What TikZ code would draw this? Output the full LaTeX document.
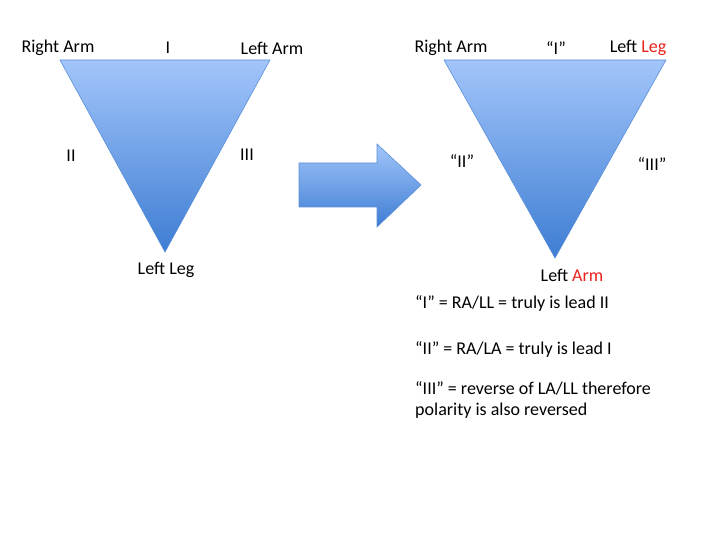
\documentclass[tikz,border=0pt]{standalone}
\usepackage{fontspec}
\setmainfont{Carlito}
\usepackage{xcolor}
\usepackage{tikz}
\usetikzlibrary{positioning}
\definecolor{toplight}{HTML}{A2C5FA}
\definecolor{botdark}{HTML}{3E7DD3}
\definecolor{edgeblue}{HTML}{5A8FD8}
\definecolor{swapred}{HTML}{E8221C}
\tikzset{
  tri/.style={draw=edgeblue,line width=0.6pt,top color=toplight,bottom color=botdark,line join=miter},
  lbl/.style={font=\fontsize{18}{21}\selectfont,inner sep=0pt},
  note/.style={lbl,anchor=west,align=left}
}

\begin{document}
\begin{tikzpicture}[x=1pt,y=-1pt]
\useasboundingbox (0,0) rectangle (720,540);
    % left triangle
    \coordinate (ra) at (60,60);
    \coordinate (la) at (270,60);
    \coordinate (ll) at (165,252);
    \path[tri] (ra)--(la)--(ll)--cycle;
    \node[lbl] (lra) at (58,48) {Right Arm};
    \node[lbl] (li) at (168,48) {I};
    \node[lbl] (lla) at (272,48) {Left Arm};
    \node[lbl] (lii) at (71,156) {II};
    \node[lbl] (liii) at (247,155) {III};
    \node[lbl] (lll) at (166,270) {Left Leg};

    % arrow
    \path[tri] (299,163)--(377,163)--(377,144)--(421,185)--(377,227)--(377,207)--(299,207)--cycle;

    % right triangle
    \coordinate (rra) at (444,60);
    \coordinate (rll) at (666,60);
    \coordinate (rla) at (555,258);
    \path[tri] (rra)--(rll)--(rla)--cycle;
    \node[lbl] (rlra) at (451,48) {Right Arm};
    \node[lbl] (ri) at (556,48) {“I”};
    \node[lbl] (rlll) at (638,48) {Left \textcolor{swapred}{Leg}};
    \node[lbl] (rii) at (462,161) {“II”};
    \node[lbl] (riii) at (652,164) {“III”};
    \node[lbl] (rlla) at (572,275) {Left \textcolor{swapred}{Arm}};

    % notes
    \node[note] (n1) at (415,303) {“I” = RA/LL = truly is lead II};
    \node[note] (n2) at (415,349) {“II” = RA/LA = truly is lead I};
    \node[note] (n3) at (415,400) {“III” = reverse of LA/LL therefore\\[0pt]polarity is also reversed};
\end{tikzpicture}
\end{document}
